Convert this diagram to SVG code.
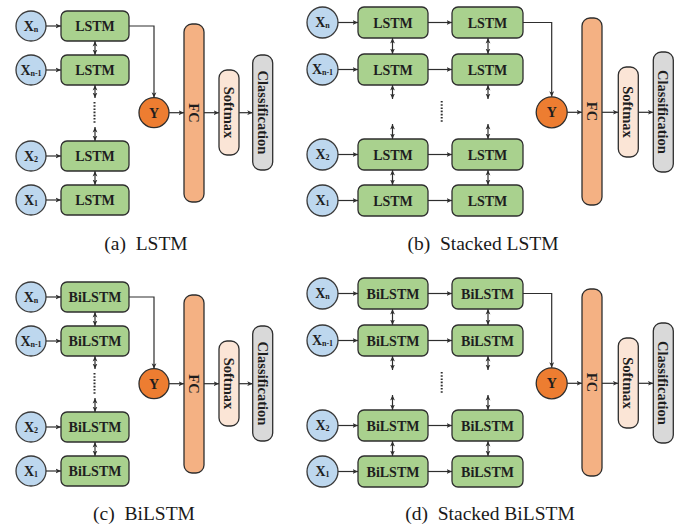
<svg xmlns="http://www.w3.org/2000/svg" width="683" height="529" viewBox="0 0 683 529">
  <style>
    .in { fill: #BDD7EE; stroke: #3a3a3a; stroke-width: 1.3; }
    .cell { fill: #A9D18E; stroke: #2e2e2e; stroke-width: 1.3; }
    .y { fill: #ED7D31; stroke: #2e2e2e; stroke-width: 1.3; }
    .fc { fill: #F4B183; stroke: #2e2e2e; stroke-width: 1.3; }
    .sm { fill: #FBE5D6; stroke: #2e2e2e; stroke-width: 1.3; }
    .cls { fill: #D9D9D9; stroke: #2e2e2e; stroke-width: 1.3; }
    .lbl { font-family: "Liberation Serif", "Times New Roman", serif; font-weight: bold; font-size: 14px; fill: #1e1e1e; text-anchor: middle; }
    .big { font-size: 14.5px; }
    .sub { font-size: 8px; }
    .cap { font-family: "Liberation Serif", "Times New Roman", serif; font-size: 19.5px; fill: #1a1a1a; text-anchor: middle; }
    .ln { fill: none; stroke: #2e2e2e; stroke-width: 1.2; }
    .one { marker-end: url(#ah); }
    .two { marker-start: url(#ah); marker-end: url(#ah); }
    .dots { fill: none; stroke: #2e2e2e; stroke-width: 2; stroke-dasharray: 1.6 1.6; }
  </style>
  <defs>
    <marker id="ah" viewBox="0 0 8 8" refX="8" refY="4" markerWidth="5.5" markerHeight="5.5" markerUnits="userSpaceOnUse" orient="auto-start-reverse">
      <path d="M0,0.5 L8,4 L0,7.5 L2.2,4 z" fill="#2e2e2e"/>
    </marker>
  </defs>

  <!-- (a) LSTM -->
  <g id="panel-a">
    <g id="a-connectors">
      <path class="ln one" d="M46,26 H61"/>
      <path class="ln one" d="M46,70 H61"/>
      <path class="ln one" d="M46,156 H61"/>
      <path class="ln one" d="M46,200 H61"/>
      <path class="ln two" d="M95,41 V55"/>
      <path class="ln two" d="M95,85 V98"/>
      <path class="ln two" d="M95,127 V141"/>
      <path class="ln two" d="M95,171 V185"/>
      <path class="dots" d="M94.5,102 V124"/>
      <path class="ln one" d="M129,26 H154 V97.7"/>
      <path class="ln one" d="M169,112.7 H184"/>
      <path class="ln one" d="M204,112.7 H219"/>
      <path class="ln one" d="M239,112.7 H252.7"/>
    </g>
    <g id="a-xn"><circle class="in" cx="31" cy="26" r="15"/><text class="lbl" x="31" y="30.6">X<tspan class="sub" dy="1">n</tspan></text></g>
    <g id="a-xn1"><circle class="in" cx="31" cy="70" r="15"/><text class="lbl" x="31" y="74.6">X<tspan class="sub" dy="1">n-1</tspan></text></g>
    <g id="a-x2"><circle class="in" cx="31" cy="156" r="15"/><text class="lbl" x="31" y="160.6">X<tspan class="sub" dy="1">2</tspan></text></g>
    <g id="a-x1"><circle class="in" cx="31" cy="200" r="15"/><text class="lbl" x="31" y="204.6">X<tspan class="sub" dy="1">1</tspan></text></g>
    <g id="a-lstm-n"><rect class="cell" x="61" y="11" width="68" height="30" rx="6"/><text class="lbl" x="95" y="31">LSTM</text></g>
    <g id="a-lstm-n1"><rect class="cell" x="61" y="55" width="68" height="30" rx="6"/><text class="lbl" x="95" y="75">LSTM</text></g>
    <g id="a-lstm-2"><rect class="cell" x="61" y="141" width="68" height="30" rx="6"/><text class="lbl" x="95" y="161">LSTM</text></g>
    <g id="a-lstm-1"><rect class="cell" x="61" y="185" width="68" height="30" rx="6"/><text class="lbl" x="95" y="205">LSTM</text></g>
    <g id="a-y"><circle class="y" cx="154" cy="112.7" r="15"/><text class="lbl" x="154" y="117.5">Y</text></g>
    <g id="a-fc"><rect class="fc" x="184" y="24" width="20" height="178" rx="8"/><text class="lbl big" transform="translate(194,113) rotate(90)" y="5">FC</text></g>
    <g id="a-softmax"><rect class="sm" x="219" y="70" width="20" height="85" rx="8"/><text class="lbl big" transform="translate(229,112.5) rotate(90)" y="5">Softmax</text></g>
    <g id="a-class"><rect class="cls" x="252.7" y="55" width="20" height="115" rx="8"/><text class="lbl big" transform="translate(262.7,112.5) rotate(90)" y="5">Classification</text></g>
    <text class="cap" x="146" y="250">(a)&#160;&#160;LSTM</text>
  </g>

  <!-- (b) Stacked LSTM -->
  <g id="panel-b">
    <g id="b-connectors">
      <path class="ln one" d="M338,22.5 H358"/>
      <path class="ln one" d="M338,69.5 H358"/>
      <path class="ln one" d="M338,154.5 H358"/>
      <path class="ln one" d="M338,200.5 H358"/>
      <path class="ln one" d="M428,22.5 H452"/>
      <path class="ln one" d="M428,69.5 H452"/>
      <path class="ln one" d="M428,154.5 H452"/>
      <path class="ln one" d="M428,200.5 H452"/>
      <path class="ln two" d="M392.5,38 V54"/>
      <path class="ln two" d="M392.5,85 V99"/>
      <path class="ln two" d="M392.5,124 V139"/>
      <path class="ln two" d="M392.5,170 V185"/>
      <path class="ln two" d="M488,38 V54"/>
      <path class="ln two" d="M488,85 V99"/>
      <path class="ln two" d="M488,124 V139"/>
      <path class="ln two" d="M488,170 V185"/>
      <path class="dots" d="M441.7,101 V123"/>
      <path class="ln one" d="M523,22.5 H551.7 V96.8"/>
      <path class="ln one" d="M567.2,112.3 H582"/>
      <path class="ln one" d="M602,112.3 H618.3"/>
      <path class="ln one" d="M638.3,112.3 H653.3"/>
    </g>
    <g id="b-xn"><circle class="in" cx="322.5" cy="22.5" r="15.5"/><text class="lbl" x="322.5" y="27.1">X<tspan class="sub" dy="1">n</tspan></text></g>
    <g id="b-xn1"><circle class="in" cx="322.5" cy="69.5" r="15.5"/><text class="lbl" x="322.5" y="74.1">X<tspan class="sub" dy="1">n-1</tspan></text></g>
    <g id="b-x2"><circle class="in" cx="322.5" cy="154.5" r="15.5"/><text class="lbl" x="322.5" y="159.1">X<tspan class="sub" dy="1">2</tspan></text></g>
    <g id="b-x1"><circle class="in" cx="322.5" cy="200.5" r="15.5"/><text class="lbl" x="322.5" y="205.1">X<tspan class="sub" dy="1">1</tspan></text></g>
    <g id="b-l1-n"><rect class="cell" x="358" y="7" width="70" height="31" rx="6"/><text class="lbl" x="393" y="27.5">LSTM</text></g>
    <g id="b-l1-n1"><rect class="cell" x="358" y="54" width="70" height="31" rx="6"/><text class="lbl" x="393" y="74.5">LSTM</text></g>
    <g id="b-l1-2"><rect class="cell" x="358" y="139" width="70" height="31" rx="6"/><text class="lbl" x="393" y="159.5">LSTM</text></g>
    <g id="b-l1-1"><rect class="cell" x="358" y="185" width="70" height="31" rx="6"/><text class="lbl" x="393" y="205.5">LSTM</text></g>
    <g id="b-l2-n"><rect class="cell" x="452" y="7" width="71" height="31" rx="6"/><text class="lbl" x="487.5" y="27.5">LSTM</text></g>
    <g id="b-l2-n1"><rect class="cell" x="452" y="54" width="71" height="31" rx="6"/><text class="lbl" x="487.5" y="74.5">LSTM</text></g>
    <g id="b-l2-2"><rect class="cell" x="452" y="139" width="71" height="31" rx="6"/><text class="lbl" x="487.5" y="159.5">LSTM</text></g>
    <g id="b-l2-1"><rect class="cell" x="452" y="185" width="71" height="31" rx="6"/><text class="lbl" x="487.5" y="205.5">LSTM</text></g>
    <g id="b-y"><circle class="y" cx="551.7" cy="112.3" r="15.5"/><text class="lbl" x="551.7" y="117.1">Y</text></g>
    <g id="b-fc"><rect class="fc" x="582" y="18" width="20" height="187" rx="8"/><text class="lbl big" transform="translate(592,111.5) rotate(90)" y="5">FC</text></g>
    <g id="b-softmax"><rect class="sm" x="618.3" y="67" width="20" height="90" rx="8"/><text class="lbl big" transform="translate(628.3,112) rotate(90)" y="5">Softmax</text></g>
    <g id="b-class"><rect class="cls" x="653.3" y="52" width="20" height="120" rx="8"/><text class="lbl big" transform="translate(663.3,112) rotate(90)" y="5">Classification</text></g>
    <text class="cap" x="483" y="250">(b)&#160;&#160;Stacked LSTM</text>
  </g>

  <!-- (c) BiLSTM -->
  <g id="panel-c" transform="translate(0,271)">
    <g id="c-connectors">
      <path class="ln one" d="M46,26 H61"/>
      <path class="ln one" d="M46,70 H61"/>
      <path class="ln one" d="M46,156 H61"/>
      <path class="ln one" d="M46,200 H61"/>
      <path class="ln two" d="M95,41 V55"/>
      <path class="ln two" d="M95,85 V98"/>
      <path class="ln two" d="M95,127 V141"/>
      <path class="ln two" d="M95,171 V185"/>
      <path class="dots" d="M94.5,102 V124"/>
      <path class="ln one" d="M129,26 H154 V97.7"/>
      <path class="ln one" d="M169,112.7 H184"/>
      <path class="ln one" d="M204,112.7 H219"/>
      <path class="ln one" d="M239,112.7 H252.7"/>
    </g>
    <g id="c-xn"><circle class="in" cx="31" cy="26" r="15"/><text class="lbl" x="31" y="30.6">X<tspan class="sub" dy="1">n</tspan></text></g>
    <g id="c-xn1"><circle class="in" cx="31" cy="70" r="15"/><text class="lbl" x="31" y="74.6">X<tspan class="sub" dy="1">n-1</tspan></text></g>
    <g id="c-x2"><circle class="in" cx="31" cy="156" r="15"/><text class="lbl" x="31" y="160.6">X<tspan class="sub" dy="1">2</tspan></text></g>
    <g id="c-x1"><circle class="in" cx="31" cy="200" r="15"/><text class="lbl" x="31" y="204.6">X<tspan class="sub" dy="1">1</tspan></text></g>
    <g id="c-bilstm-n"><rect class="cell" x="61" y="11" width="68" height="30" rx="6"/><text class="lbl" x="95" y="31">BiLSTM</text></g>
    <g id="c-bilstm-n1"><rect class="cell" x="61" y="55" width="68" height="30" rx="6"/><text class="lbl" x="95" y="75">BiLSTM</text></g>
    <g id="c-bilstm-2"><rect class="cell" x="61" y="141" width="68" height="30" rx="6"/><text class="lbl" x="95" y="161">BiLSTM</text></g>
    <g id="c-bilstm-1"><rect class="cell" x="61" y="185" width="68" height="30" rx="6"/><text class="lbl" x="95" y="205">BiLSTM</text></g>
    <g id="c-y"><circle class="y" cx="154" cy="112.7" r="15"/><text class="lbl" x="154" y="117.5">Y</text></g>
    <g id="c-fc"><rect class="fc" x="184" y="24" width="20" height="178" rx="8"/><text class="lbl big" transform="translate(194,113) rotate(90)" y="5">FC</text></g>
    <g id="c-softmax"><rect class="sm" x="219" y="70" width="20" height="85" rx="8"/><text class="lbl big" transform="translate(229,112.5) rotate(90)" y="5">Softmax</text></g>
    <g id="c-class"><rect class="cls" x="252.7" y="55" width="20" height="115" rx="8"/><text class="lbl big" transform="translate(262.7,112.5) rotate(90)" y="5">Classification</text></g>
    <text class="cap" x="144" y="249">(c)&#160;&#160;BiLSTM</text>
  </g>

  <!-- (d) Stacked BiLSTM -->
  <g id="panel-d" transform="translate(0,271)">
    <g id="d-connectors">
      <path class="ln one" d="M338,22.5 H358"/>
      <path class="ln one" d="M338,69.5 H358"/>
      <path class="ln one" d="M338,154.5 H358"/>
      <path class="ln one" d="M338,200.5 H358"/>
      <path class="ln one" d="M428,22.5 H452"/>
      <path class="ln one" d="M428,69.5 H452"/>
      <path class="ln one" d="M428,154.5 H452"/>
      <path class="ln one" d="M428,200.5 H452"/>
      <path class="ln two" d="M392.5,38 V54"/>
      <path class="ln two" d="M392.5,85 V99"/>
      <path class="ln two" d="M392.5,124 V139"/>
      <path class="ln two" d="M392.5,170 V185"/>
      <path class="ln two" d="M488,38 V54"/>
      <path class="ln two" d="M488,85 V99"/>
      <path class="ln two" d="M488,124 V139"/>
      <path class="ln two" d="M488,170 V185"/>
      <path class="dots" d="M441.7,101 V123"/>
      <path class="ln one" d="M523,22.5 H551.7 V96.8"/>
      <path class="ln one" d="M567.2,112.3 H582"/>
      <path class="ln one" d="M602,112.3 H618.3"/>
      <path class="ln one" d="M638.3,112.3 H653.3"/>
    </g>
    <g id="d-xn"><circle class="in" cx="322.5" cy="22.5" r="15.5"/><text class="lbl" x="322.5" y="27.1">X<tspan class="sub" dy="1">n</tspan></text></g>
    <g id="d-xn1"><circle class="in" cx="322.5" cy="69.5" r="15.5"/><text class="lbl" x="322.5" y="74.1">X<tspan class="sub" dy="1">n-1</tspan></text></g>
    <g id="d-x2"><circle class="in" cx="322.5" cy="154.5" r="15.5"/><text class="lbl" x="322.5" y="159.1">X<tspan class="sub" dy="1">2</tspan></text></g>
    <g id="d-x1"><circle class="in" cx="322.5" cy="200.5" r="15.5"/><text class="lbl" x="322.5" y="205.1">X<tspan class="sub" dy="1">1</tspan></text></g>
    <g id="d-l1-n"><rect class="cell" x="358" y="7" width="70" height="31" rx="6"/><text class="lbl" x="393" y="27.5">BiLSTM</text></g>
    <g id="d-l1-n1"><rect class="cell" x="358" y="54" width="70" height="31" rx="6"/><text class="lbl" x="393" y="74.5">BiLSTM</text></g>
    <g id="d-l1-2"><rect class="cell" x="358" y="139" width="70" height="31" rx="6"/><text class="lbl" x="393" y="159.5">BiLSTM</text></g>
    <g id="d-l1-1"><rect class="cell" x="358" y="185" width="70" height="31" rx="6"/><text class="lbl" x="393" y="205.5">BiLSTM</text></g>
    <g id="d-l2-n"><rect class="cell" x="452" y="7" width="71" height="31" rx="6"/><text class="lbl" x="487.5" y="27.5">BiLSTM</text></g>
    <g id="d-l2-n1"><rect class="cell" x="452" y="54" width="71" height="31" rx="6"/><text class="lbl" x="487.5" y="74.5">BiLSTM</text></g>
    <g id="d-l2-2"><rect class="cell" x="452" y="139" width="71" height="31" rx="6"/><text class="lbl" x="487.5" y="159.5">BiLSTM</text></g>
    <g id="d-l2-1"><rect class="cell" x="452" y="185" width="71" height="31" rx="6"/><text class="lbl" x="487.5" y="205.5">BiLSTM</text></g>
    <g id="d-y"><circle class="y" cx="551.7" cy="112.3" r="15.5"/><text class="lbl" x="551.7" y="117.1">Y</text></g>
    <g id="d-fc"><rect class="fc" x="582" y="18" width="20" height="187" rx="8"/><text class="lbl big" transform="translate(592,111.5) rotate(90)" y="5">FC</text></g>
    <g id="d-softmax"><rect class="sm" x="618.3" y="67" width="20" height="90" rx="8"/><text class="lbl big" transform="translate(628.3,112) rotate(90)" y="5">Softmax</text></g>
    <g id="d-class"><rect class="cls" x="653.3" y="52" width="20" height="120" rx="8"/><text class="lbl big" transform="translate(663.3,112) rotate(90)" y="5">Classification</text></g>
    <text class="cap" x="490" y="249">(d)&#160;&#160;Stacked BiLSTM</text>
  </g>
</svg>
